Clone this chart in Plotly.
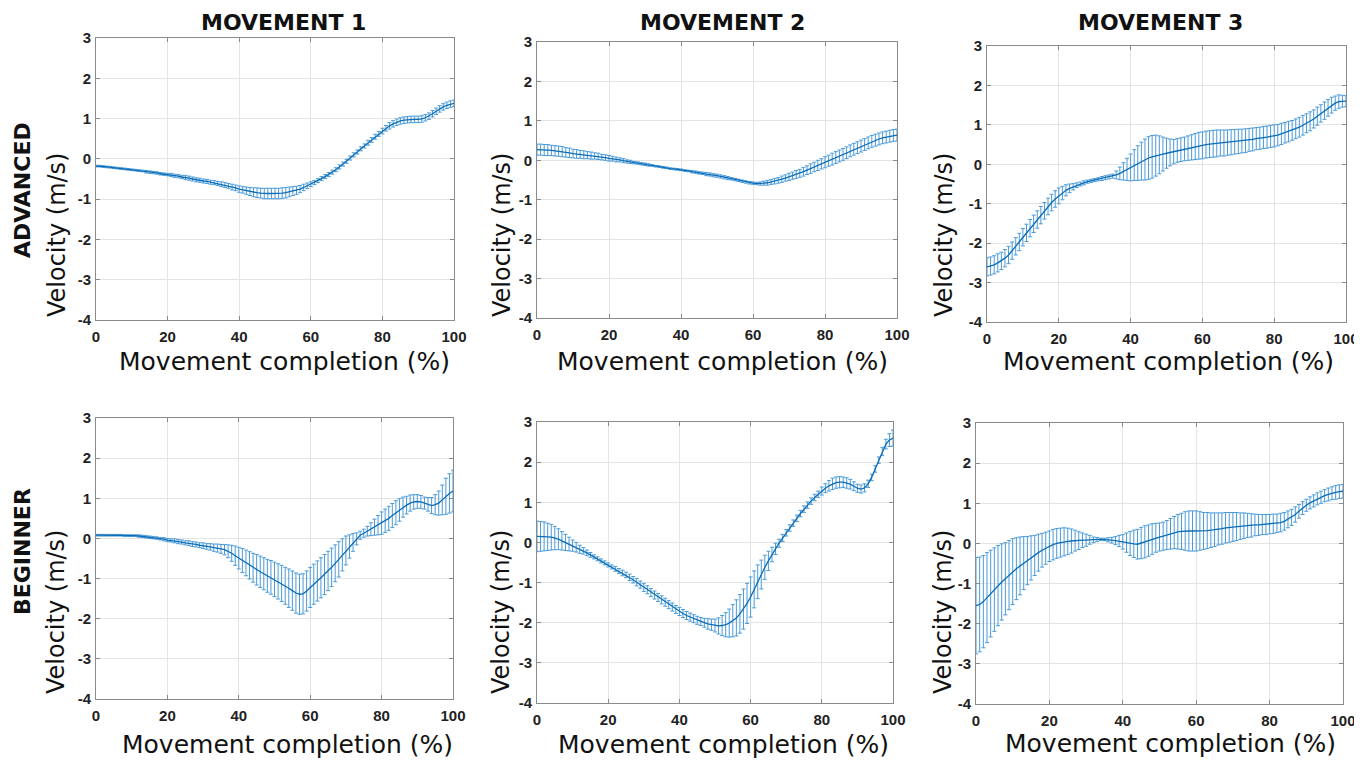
import plotly.graph_objects as go

# ---------------- data ----------------
completion = list(range(0, 101))
x_ticks = [0, 20, 40, 60, 80, 100]
y_ticks = [-4, -3, -2, -1, 0, 1, 2, 3]
y_tick_text = ["-4", "-3", "-2", "-1", "0", "1", "2", "3"]
col_titles = ["MOVEMENT 1", "MOVEMENT 2", "MOVEMENT 3"]
row_titles = ["ADVANCED", "BEGINNER"]
y_title = "Velocity (m/s)"
x_title = "Movement completion (%)"

adv_m1_mean = [-0.18, -0.18, -0.19, -0.20, -0.21, -0.22, -0.23, -0.24, -0.25, -0.26,
               -0.27, -0.28, -0.29, -0.30, -0.32, -0.33, -0.34, -0.35, -0.37, -0.38,
               -0.39, -0.40, -0.42, -0.43, -0.45, -0.46, -0.48, -0.50, -0.52, -0.53,
               -0.55, -0.56, -0.58, -0.59, -0.61, -0.63, -0.65, -0.67, -0.70, -0.72,
               -0.75, -0.77, -0.79, -0.81, -0.83, -0.84, -0.85, -0.86, -0.86, -0.86,
               -0.86, -0.86, -0.85, -0.84, -0.82, -0.80, -0.78, -0.75, -0.71, -0.67,
               -0.63, -0.59, -0.54, -0.49, -0.44, -0.39, -0.33, -0.27, -0.20, -0.13,
               -0.06, 0.02, 0.10, 0.17, 0.25, 0.32, 0.40, 0.47, 0.55, 0.62,
               0.69, 0.76, 0.82, 0.87, 0.91, 0.94, 0.96, 0.97, 0.98, 0.98,
               0.98, 0.99, 1.02, 1.06, 1.12, 1.18, 1.24, 1.29, 1.33, 1.36,
               1.38]
adv_m1_sd = [0.02, 0.02, 0.02, 0.02, 0.02, 0.02, 0.02, 0.02, 0.02, 0.02,
             0.02, 0.02, 0.02, 0.02, 0.03, 0.03, 0.03, 0.03, 0.03, 0.03,
             0.03, 0.04, 0.04, 0.04, 0.04, 0.05, 0.05, 0.05, 0.05, 0.05,
             0.05, 0.05, 0.05, 0.05, 0.05, 0.06, 0.06, 0.06, 0.07, 0.07,
             0.08, 0.08, 0.09, 0.10, 0.11, 0.12, 0.12, 0.13, 0.13, 0.13,
             0.13, 0.13, 0.13, 0.13, 0.12, 0.11, 0.10, 0.09, 0.08, 0.07,
             0.06, 0.05, 0.05, 0.05, 0.05, 0.05, 0.05, 0.05, 0.05, 0.05,
             0.05, 0.05, 0.05, 0.05, 0.05, 0.05, 0.06, 0.06, 0.06, 0.06,
             0.07, 0.07, 0.08, 0.08, 0.08, 0.08, 0.08, 0.08, 0.08, 0.08,
             0.08, 0.08, 0.08, 0.08, 0.08, 0.08, 0.08, 0.08, 0.08, 0.08,
             0.08]

adv_m2_mean = [0.27, 0.27, 0.26, 0.26, 0.25, 0.24, 0.23, 0.22, 0.20, 0.19,
               0.17, 0.16, 0.15, 0.14, 0.13, 0.12, 0.11, 0.10, 0.08, 0.07,
               0.05, 0.04, 0.02, 0.01, -0.01, -0.03, -0.04, -0.06, -0.07, -0.09,
               -0.10, -0.12, -0.13, -0.15, -0.16, -0.18, -0.19, -0.21, -0.22, -0.23,
               -0.24, -0.26, -0.27, -0.29, -0.30, -0.32, -0.33, -0.35, -0.36, -0.38,
               -0.39, -0.41, -0.43, -0.45, -0.47, -0.49, -0.51, -0.53, -0.55, -0.57,
               -0.58, -0.59, -0.59, -0.58, -0.57, -0.55, -0.53, -0.51, -0.48, -0.45,
               -0.42, -0.39, -0.36, -0.33, -0.29, -0.25, -0.21, -0.17, -0.13, -0.09,
               -0.05, -0.01, 0.03, 0.07, 0.11, 0.15, 0.19, 0.24, 0.28, 0.32,
               0.36, 0.40, 0.44, 0.48, 0.51, 0.54, 0.57, 0.59, 0.61, 0.63,
               0.64]
adv_m2_sd = [0.14, 0.14, 0.14, 0.14, 0.13, 0.13, 0.13, 0.13, 0.12, 0.12,
             0.11, 0.11, 0.10, 0.10, 0.09, 0.09, 0.08, 0.08, 0.07, 0.07,
             0.07, 0.06, 0.06, 0.05, 0.05, 0.04, 0.04, 0.03, 0.03, 0.03,
             0.03, 0.03, 0.02, 0.02, 0.02, 0.02, 0.02, 0.02, 0.02, 0.02,
             0.02, 0.02, 0.02, 0.03, 0.03, 0.03, 0.03, 0.04, 0.04, 0.04,
             0.04, 0.04, 0.04, 0.04, 0.03, 0.03, 0.03, 0.03, 0.03, 0.03,
             0.03, 0.03, 0.04, 0.05, 0.06, 0.06, 0.07, 0.07, 0.08, 0.08,
             0.09, 0.09, 0.10, 0.10, 0.11, 0.11, 0.12, 0.12, 0.13, 0.13,
             0.14, 0.14, 0.15, 0.15, 0.15, 0.15, 0.15, 0.15, 0.15, 0.15,
             0.15, 0.15, 0.15, 0.15, 0.15, 0.15, 0.15, 0.15, 0.15, 0.15,
             0.15]

adv_m3_mean = [-2.60, -2.58, -2.55, -2.50, -2.45, -2.38, -2.30, -2.19, -2.08, -1.97,
               -1.85, -1.74, -1.62, -1.51, -1.40, -1.29, -1.18, -1.07, -0.97, -0.88,
               -0.80, -0.73, -0.66, -0.61, -0.57, -0.53, -0.50, -0.47, -0.44, -0.42,
               -0.40, -0.38, -0.36, -0.34, -0.32, -0.30, -0.27, -0.23, -0.18, -0.13,
               -0.08, -0.02, 0.03, 0.08, 0.12, 0.16, 0.19, 0.22, 0.24, 0.26,
               0.28, 0.30, 0.32, 0.35, 0.37, 0.39, 0.41, 0.43, 0.45, 0.47,
               0.48, 0.50, 0.51, 0.52, 0.53, 0.54, 0.54, 0.55, 0.56, 0.57,
               0.58, 0.59, 0.60, 0.62, 0.63, 0.65, 0.66, 0.68, 0.69, 0.71,
               0.72, 0.74, 0.77, 0.80, 0.83, 0.86, 0.90, 0.94, 0.99, 1.04,
               1.09, 1.15, 1.22, 1.29, 1.36, 1.43, 1.50, 1.55, 1.59, 1.60,
               1.60]
adv_m3_sd = [0.23, 0.23, 0.23, 0.23, 0.22, 0.22, 0.22, 0.22, 0.22, 0.22,
             0.22, 0.22, 0.22, 0.22, 0.22, 0.22, 0.21, 0.21, 0.21, 0.21,
             0.20, 0.17, 0.14, 0.11, 0.08, 0.06, 0.05, 0.05, 0.04, 0.04,
             0.04, 0.04, 0.05, 0.05, 0.05, 0.05, 0.10, 0.16, 0.22, 0.28,
             0.34, 0.39, 0.44, 0.48, 0.52, 0.54, 0.54, 0.52, 0.48, 0.43,
             0.38, 0.34, 0.31, 0.30, 0.30, 0.30, 0.31, 0.32, 0.33, 0.34,
             0.34, 0.34, 0.34, 0.34, 0.34, 0.33, 0.33, 0.32, 0.32, 0.31,
             0.31, 0.30, 0.30, 0.29, 0.29, 0.28, 0.28, 0.28, 0.28, 0.28,
             0.28, 0.27, 0.27, 0.26, 0.26, 0.25, 0.25, 0.25, 0.25, 0.24,
             0.24, 0.23, 0.23, 0.22, 0.22, 0.21, 0.20, 0.18, 0.17, 0.15,
             0.14]

beg_m1_mean = [0.08, 0.08, 0.08, 0.08, 0.08, 0.08, 0.08, 0.08, 0.07, 0.07,
               0.07, 0.07, 0.06, 0.05, 0.04, 0.03, 0.02, 0.01, -0.01, -0.02,
               -0.04, -0.05, -0.06, -0.08, -0.09, -0.11, -0.12, -0.14, -0.15, -0.17,
               -0.18, -0.20, -0.21, -0.23, -0.24, -0.26, -0.28, -0.32, -0.37, -0.43,
               -0.49, -0.55, -0.61, -0.67, -0.73, -0.78, -0.83, -0.88, -0.93, -0.97,
               -1.02, -1.07, -1.12, -1.18, -1.24, -1.30, -1.36, -1.39, -1.38, -1.31,
               -1.22, -1.14, -1.06, -0.98, -0.90, -0.81, -0.72, -0.62, -0.52, -0.41,
               -0.30, -0.20, -0.10, -0.01, 0.08, 0.13, 0.18, 0.23, 0.28, 0.33,
               0.38, 0.44, 0.50, 0.57, 0.64, 0.71, 0.78, 0.83, 0.88, 0.91,
               0.92, 0.91, 0.88, 0.85, 0.82, 0.84, 0.88, 0.96, 1.05, 1.12,
               1.18]
beg_m1_sd = [0.02, 0.02, 0.02, 0.02, 0.02, 0.02, 0.02, 0.02, 0.02, 0.02,
             0.02, 0.02, 0.03, 0.03, 0.03, 0.03, 0.03, 0.03, 0.03, 0.04,
             0.04, 0.04, 0.05, 0.05, 0.05, 0.05, 0.06, 0.06, 0.06, 0.06,
             0.07, 0.07, 0.08, 0.09, 0.10, 0.11, 0.13, 0.16, 0.20, 0.24,
             0.27, 0.30, 0.32, 0.34, 0.36, 0.38, 0.39, 0.40, 0.41, 0.42,
             0.43, 0.44, 0.45, 0.46, 0.48, 0.49, 0.50, 0.50, 0.50, 0.50,
             0.50, 0.50, 0.50, 0.50, 0.50, 0.49, 0.48, 0.46, 0.44, 0.40,
             0.36, 0.29, 0.22, 0.15, 0.10, 0.10, 0.12, 0.16, 0.20, 0.24,
             0.28, 0.29, 0.30, 0.30, 0.30, 0.28, 0.25, 0.22, 0.20, 0.18,
             0.17, 0.16, 0.15, 0.17, 0.20, 0.25, 0.30, 0.37, 0.45, 0.49,
             0.52]

beg_m2_mean = [0.15, 0.15, 0.15, 0.14, 0.13, 0.11, 0.08, 0.04, 0.00, -0.04,
               -0.08, -0.12, -0.17, -0.21, -0.26, -0.31, -0.36, -0.41, -0.46, -0.51,
               -0.56, -0.61, -0.66, -0.71, -0.76, -0.81, -0.87, -0.93, -0.99, -1.05,
               -1.12, -1.18, -1.25, -1.31, -1.37, -1.43, -1.49, -1.55, -1.61, -1.67,
               -1.72, -1.77, -1.82, -1.86, -1.90, -1.94, -1.97, -2.00, -2.03, -2.05,
               -2.07, -2.08, -2.07, -2.05, -2.01, -1.95, -1.88, -1.78, -1.66, -1.52,
               -1.36, -1.17, -0.98, -0.80, -0.62, -0.46, -0.30, -0.16, -0.02, 0.11,
               0.24, 0.36, 0.48, 0.60, 0.72, 0.83, 0.93, 1.03, 1.12, 1.20,
               1.28, 1.35, 1.41, 1.46, 1.49, 1.50, 1.50, 1.48, 1.45, 1.40,
               1.35, 1.33, 1.36, 1.46, 1.62, 1.83, 2.05, 2.27, 2.45, 2.55,
               2.60]
beg_m2_sd = [0.38, 0.37, 0.36, 0.34, 0.32, 0.29, 0.26, 0.23, 0.20, 0.17,
             0.14, 0.12, 0.10, 0.08, 0.07, 0.06, 0.05, 0.05, 0.05, 0.05,
             0.05, 0.05, 0.06, 0.06, 0.07, 0.07, 0.08, 0.08, 0.09, 0.09,
             0.10, 0.10, 0.10, 0.10, 0.10, 0.10, 0.10, 0.10, 0.10, 0.10,
             0.10, 0.10, 0.10, 0.10, 0.10, 0.10, 0.10, 0.11, 0.13, 0.14,
             0.16, 0.20, 0.25, 0.30, 0.35, 0.40, 0.45, 0.48, 0.50, 0.50,
             0.50, 0.46, 0.42, 0.36, 0.30, 0.24, 0.18, 0.14, 0.10, 0.09,
             0.08, 0.08, 0.08, 0.08, 0.08, 0.08, 0.08, 0.08, 0.08, 0.08,
             0.10, 0.11, 0.13, 0.14, 0.14, 0.14, 0.13, 0.13, 0.12, 0.11,
             0.10, 0.10, 0.10, 0.09, 0.08, 0.08, 0.08, 0.10, 0.12, 0.16,
             0.20]

beg_m3_mean = [-1.55, -1.52, -1.45, -1.35, -1.25, -1.15, -1.05, -0.96, -0.88, -0.79,
               -0.70, -0.63, -0.56, -0.49, -0.43, -0.36, -0.30, -0.23, -0.17, -0.12,
               -0.07, -0.03, 0.00, 0.02, 0.04, 0.05, 0.06, 0.07, 0.07, 0.08,
               0.08, 0.09, 0.09, 0.10, 0.10, 0.10, 0.09, 0.08, 0.07, 0.06,
               0.04, 0.02, 0.00, -0.01, -0.02, 0.01, 0.04, 0.07, 0.11, 0.14,
               0.16, 0.18, 0.21, 0.24, 0.27, 0.29, 0.30, 0.31, 0.31, 0.31,
               0.31, 0.31, 0.31, 0.32, 0.33, 0.34, 0.36, 0.37, 0.39, 0.40,
               0.41, 0.42, 0.43, 0.44, 0.45, 0.45, 0.46, 0.46, 0.47, 0.47,
               0.48, 0.49, 0.50, 0.52, 0.55, 0.60, 0.65, 0.72, 0.80, 0.88,
               0.95, 1.01, 1.06, 1.11, 1.15, 1.19, 1.22, 1.25, 1.27, 1.29,
               1.30]
beg_m3_sd = [1.20, 1.18, 1.15, 1.12, 1.08, 1.04, 1.00, 0.95, 0.90, 0.86,
             0.82, 0.77, 0.72, 0.66, 0.60, 0.55, 0.50, 0.46, 0.42, 0.40,
             0.38, 0.38, 0.37, 0.36, 0.35, 0.33, 0.30, 0.26, 0.22, 0.18,
             0.15, 0.11, 0.07, 0.05, 0.03, 0.03, 0.05, 0.07, 0.10, 0.14,
             0.18, 0.24, 0.30, 0.34, 0.37, 0.39, 0.40, 0.39, 0.38, 0.36,
             0.35, 0.35, 0.36, 0.38, 0.40, 0.43, 0.45, 0.48, 0.50, 0.50,
             0.50, 0.48, 0.46, 0.45, 0.43, 0.42, 0.40, 0.39, 0.38, 0.37,
             0.36, 0.35, 0.33, 0.32, 0.30, 0.29, 0.27, 0.26, 0.25, 0.25,
             0.24, 0.24, 0.23, 0.23, 0.22, 0.21, 0.20, 0.19, 0.17, 0.16,
             0.15, 0.15, 0.15, 0.15, 0.15, 0.15, 0.16, 0.16, 0.17, 0.17,
             0.17]

panels = [
    (adv_m1_mean, adv_m1_sd), (adv_m2_mean, adv_m2_sd), (adv_m3_mean, adv_m3_sd),
    (beg_m1_mean, beg_m1_sd), (beg_m2_mean, beg_m2_sd), (beg_m3_mean, beg_m3_sd),
]

# ---------------- layout geometry (page pixels) ----------------
PAGE_W, PAGE_H = 1362, 767
OFF = 8  # default body margin of the html page
W, H = PAGE_W - OFF, PAGE_H - OFF
x_px = [(96, 454), (537, 897), (987, 1346), (96, 453), (537, 893), (976, 1343)]
y_px = [(38, 320), (42, 318), (46, 322), (418, 699), (422, 703), (423, 704)]

def px_x(v):
    return (v - OFF) / W

def px_y(v):
    return 1 - (v - OFF) / H

LINE_COLOR = "#0b6cb6"
ERR_COLOR = "#4a9ad9"
TEXT_FONT = "DejaVu Sans"

fig = go.Figure()
layout_axes = {}
for i, (mean, sd) in enumerate(panels):
    n = i + 1
    xa = "x" if n == 1 else f"x{n}"
    ya = "y" if n == 1 else f"y{n}"
    fig.add_trace(go.Scatter(
        x=completion, y=mean, xaxis=xa, yaxis=ya, mode="lines",
        line=dict(color=LINE_COLOR, width=1.3),
        error_y=dict(type="data", array=sd, visible=True, color=ERR_COLOR,
                     thickness=1, width=2),
        showlegend=False, hoverinfo="skip",
    ))
    x0, x1 = x_px[i]
    yt, yb = y_px[i]
    common = dict(
        showgrid=True, gridcolor="#e4e4e4", gridwidth=1,
        showline=True, linecolor="#8a8a8a", linewidth=1, mirror="ticks",
        ticks="inside", ticklen=4, tickcolor="#8a8a8a", zeroline=False,
        tickfont=dict(family="Liberation Sans", size=15, color="#222222", weight="bold"),
        fixedrange=True, automargin=False,
    )
    layout_axes["xaxis" if n == 1 else f"xaxis{n}"] = dict(
        common, domain=[px_x(x0), px_x(x1)], range=[0, 100], tickvals=x_ticks,
        anchor=ya, ticklabelstandoff=3,
    )
    layout_axes["yaxis" if n == 1 else f"yaxis{n}"] = dict(
        common, domain=[px_y(yb), px_y(yt)], range=[-4, 3], tickvals=y_ticks,
        ticktext=y_tick_text, anchor=xa, ticklabelstandoff=1,
    )

annotations = []
def ann(text, x, y, size, bold=False, angle=0):
    annotations.append(dict(
        text=f"<b>{text}</b>" if bold else text, x=px_x(x), y=px_y(y),
        xref="paper", yref="paper", xanchor="center", yanchor="middle",
        showarrow=False, textangle=angle,
        font=dict(family=TEXT_FONT, size=size, color="#111111"),
    ))

for t, cx in zip(col_titles, [283, 722, 1160]):
    ann(t, cx, 22, 22, bold=True)
for t, cy in zip(row_titles, [190, 552]):
    ann(t, 22, cy, 22, bold=True, angle=-90)
for cx, cy in [(57, 235), (502, 235), (944, 235), (56, 612), (501, 612), (943, 612)]:
    ann(y_title, cx, cy, 24, angle=-90)
for cx, cy in [(284, 361), (722, 361), (1168, 361), (287, 744), (723, 744), (1170, 743)]:
    ann(x_title, cx, cy, 25)

fig.update_layout(
    width=W, height=H, autosize=False,
    margin=dict(l=0, r=0, t=0, b=0),
    paper_bgcolor="white", plot_bgcolor="white",
    annotations=annotations,
    **layout_axes,
)

fig.write_html("out.html")
